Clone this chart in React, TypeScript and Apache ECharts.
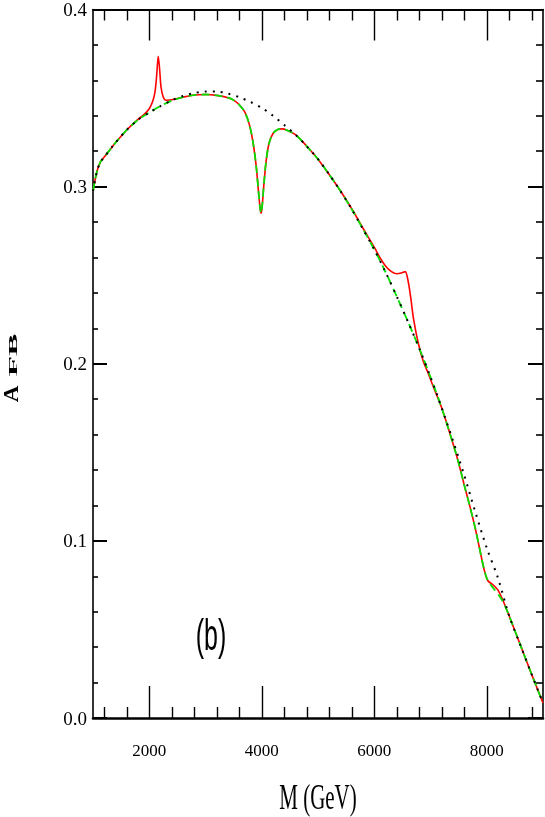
import React, { useEffect, useRef } from 'react'
import * as echarts from 'echarts'

// tick positions on M axis (GeV)
const xMajor = [2000, 4000, 6000, 8000]
const xMinor = [1200, 1600, 2400, 2800, 3200, 3600, 4400, 4800, 5200, 5600, 6400, 6800, 7200, 7600, 8400, 8800]

// black dotted curve
const dottedCurve: [number, number][] = [
    [1000, 0.2975], [1070, 0.3085], [1130, 0.3138], [1200, 0.3167], [1400, 0.3248], [1600, 0.332],
    [1800, 0.3377], [2000, 0.3418], [2200, 0.3455], [2400, 0.3487], [2600, 0.3512], [2800, 0.3528],
    [3000, 0.3537], [3200, 0.3537], [3400, 0.3525], [3600, 0.3505], [3800, 0.3478], [4000, 0.3445],
    [4200, 0.34], [4400, 0.3348], [4600, 0.3293], [4800, 0.3228], [5000, 0.3155], [5200, 0.3068],
    [5400, 0.2975], [5600, 0.2872], [5800, 0.276], [6000, 0.2645], [6200, 0.2518], [6400, 0.238],
    [6600, 0.2237], [6800, 0.2087], [7000, 0.1925], [7200, 0.175], [7400, 0.1565], [7600, 0.137],
    [7800, 0.116], [8000, 0.096], [8200, 0.079], [8400, 0.0575], [8600, 0.041], [8800, 0.0245],
    [9000, 0.0085],
]

// green dashed curve
const greenCurve: [number, number][] = [
    [1000, 0.2975], [1070, 0.3085], [1130, 0.3138], [1200, 0.3167], [1400, 0.3248], [1600, 0.332],
    [1800, 0.3377], [2000, 0.3418], [2200, 0.3455], [2400, 0.3485], [2600, 0.3505], [2800, 0.3517],
    [3000, 0.352], [3200, 0.3515], [3400, 0.3502], [3500, 0.3488], [3600, 0.3462], [3700, 0.342],
    [3780, 0.335], [3840, 0.326], [3900, 0.312], [3940, 0.298], [3970, 0.288], [3990, 0.285],
    [4010, 0.29], [4040, 0.302], [4080, 0.315], [4130, 0.3245], [4200, 0.33], [4280, 0.3322],
    [4360, 0.3326], [4450, 0.3318], [4600, 0.3293], [4800, 0.3228], [5000, 0.3155], [5200, 0.3068],
    [5400, 0.2975], [5600, 0.2872], [5800, 0.276], [6000, 0.2645], [6200, 0.2518], [6400, 0.238],
    [6600, 0.2237], [6800, 0.2087], [7000, 0.1925], [7200, 0.175], [7400, 0.155], [7500, 0.144],
    [7600, 0.1315], [7700, 0.1195], [7800, 0.1065], [7900, 0.0915], [7960, 0.083], [8020, 0.0775],
    [8100, 0.074], [8200, 0.07], [8300, 0.065], [8400, 0.0575], [8600, 0.041], [8800, 0.0245],
    [9000, 0.0085],
]

// red solid curve
const redCurve: [number, number][] = [
    [1000, 0.2975], [1070, 0.3085], [1130, 0.3138], [1200, 0.3167], [1400, 0.3248], [1600, 0.332],
    [1800, 0.338], [1900, 0.3405], [2000, 0.344], [2060, 0.348], [2100, 0.353], [2130, 0.362],
    [2160, 0.3736], [2185, 0.366], [2210, 0.356], [2250, 0.3505], [2300, 0.3488], [2400, 0.349],
    [2600, 0.3505], [2800, 0.3517], [3000, 0.352], [3200, 0.3515], [3400, 0.3502], [3500, 0.3488],
    [3600, 0.3462], [3700, 0.342], [3780, 0.335], [3840, 0.326], [3900, 0.312], [3940, 0.298],
    [3970, 0.288], [3990, 0.285], [4010, 0.29], [4040, 0.302], [4080, 0.315], [4130, 0.3245],
    [4200, 0.33], [4280, 0.3322], [4360, 0.3326], [4450, 0.3318], [4600, 0.3293], [4800, 0.3228],
    [5000, 0.3155], [5200, 0.3068], [5400, 0.2975], [5600, 0.2875], [5800, 0.2765], [6000, 0.2658],
    [6100, 0.26], [6200, 0.2552], [6300, 0.2522], [6400, 0.2508], [6480, 0.2512], [6550, 0.252],
    [6600, 0.247], [6650, 0.237], [6700, 0.225], [6780, 0.212], [6870, 0.2015], [6960, 0.1945],
    [7050, 0.187], [7200, 0.175], [7400, 0.155], [7500, 0.144], [7600, 0.1315], [7700, 0.1195],
    [7800, 0.1065], [7900, 0.0915], [7960, 0.083], [8020, 0.0775], [8100, 0.0755], [8200, 0.0722],
    [8300, 0.0655], [8400, 0.0575], [8600, 0.041], [8800, 0.0245], [9000, 0.0085],
]

const serif = "'Liberation Serif', 'DejaVu Serif', serif"

function xAxisDef(position: string, ticks: number[], len: number, lineW: number, labels: boolean) {
    return {
        type: 'value',
        position,
        min: 1000,
        max: 9000,
        axisLine: { show: lineW > 0, onZero: false, lineStyle: { color: '#000', width: lineW } },
        axisTick: { show: true, inside: true, length: len, customValues: ticks, lineStyle: { color: '#000', width: 1.4 } },
        axisLabel: labels
            ? {
                show: true, customValues: ticks, margin: 24, fontSize: 17, fontFamily: serif, color: '#000',
                formatter: (v: number) => String(v),
            }
            : { show: false },
        splitLine: { show: false },
    }
}

function yAxisDef(position: string, len: number, minorLen: number, labels: boolean) {
    return {
        type: 'value',
        position,
        min: 0,
        max: 0.4,
        interval: 0.1,
        axisLine: { show: true, onZero: false, lineStyle: { color: '#000', width: 1.6 } },
        axisTick: { show: true, inside: true, length: len, lineStyle: { color: '#000', width: 2 } },
        minorTick: { show: true, splitNumber: 5, length: minorLen, lineStyle: { color: '#000', width: 1.6 } },
        axisLabel: labels
            ? { show: true, margin: 6, fontSize: 19, fontFamily: serif, color: '#000', formatter: (v: number) => v.toFixed(1) }
            : { show: false },
        splitLine: { show: false },
        minorSplitLine: { show: false },
    }
}

export default function App() {
    const chartRef = useRef<HTMLDivElement>(null)

    useEffect(() => {
        const chart = echarts.init(chartRef.current, null, { renderer: 'svg' })
        chart.setOption({
            animation: false,
            grid: { left: 93, right: 2, top: 9, bottom: 99 },
            xAxis: [
                xAxisDef('bottom', xMajor, 32, 2.6, true),
                xAxisDef('bottom', xMinor, 11, 0, false),
                xAxisDef('top', xMajor, 31, 1.8, false),
                xAxisDef('top', xMinor, 11, 0, false),
            ],
            yAxis: [
                yAxisDef('left', 14, 5, true),
                yAxisDef('right', 15, 7, false),
            ],
            graphic: [
                {
                    type: 'text', x: 318, y: 797, scaleY: 1.7,
                    style: { text: 'M (GeV)', fontSize: 21, fontFamily: serif, fill: '#000', textAlign: 'center', textVerticalAlign: 'middle' },
                },
                {
                    type: 'text', x: 211, y: 635, scaleY: 1.8,
                    style: { text: '(b)', fontSize: 25, fontFamily: "'Liberation Sans', sans-serif", fill: '#000', textAlign: 'center', textVerticalAlign: 'middle' },
                },
                {
                    type: 'text', x: 11, y: 394, rotation: Math.PI / 2, scaleX: 1.1,
                    style: { text: 'A', fontSize: 21, fontWeight: 'bold', fontFamily: serif, fill: '#000', textAlign: 'center', textVerticalAlign: 'middle' },
                },
                {
                    type: 'text', x: 13, y: 355, rotation: Math.PI / 2, scaleX: 2.6,
                    style: { text: 'FB', fontSize: 13, fontWeight: 'bold', fontFamily: serif, fill: '#000', textAlign: 'center', textVerticalAlign: 'middle' },
                },
            ],
            series: [
                {
                    type: 'line', data: redCurve, xAxisIndex: 0, yAxisIndex: 0, showSymbol: false, smooth: 0.3,
                    lineStyle: { color: '#ff0000', width: 1.6 },
                },
                {
                    type: 'line', data: greenCurve, xAxisIndex: 0, yAxisIndex: 0, showSymbol: false, smooth: 0.3,
                    lineStyle: { color: '#00e000', width: 1.8, type: [8, 5] },
                },
                {
                    type: 'line', data: dottedCurve, xAxisIndex: 0, yAxisIndex: 0, showSymbol: false, smooth: 0.3,
                    lineStyle: { color: '#000', width: 2, type: [2, 6] },
                },
            ],
        })
        return () => chart.dispose()
    }, [])

    return <div ref={chartRef} style={{ position: 'fixed', left: 0, top: 0, width: 545, height: 817 }} />
}
